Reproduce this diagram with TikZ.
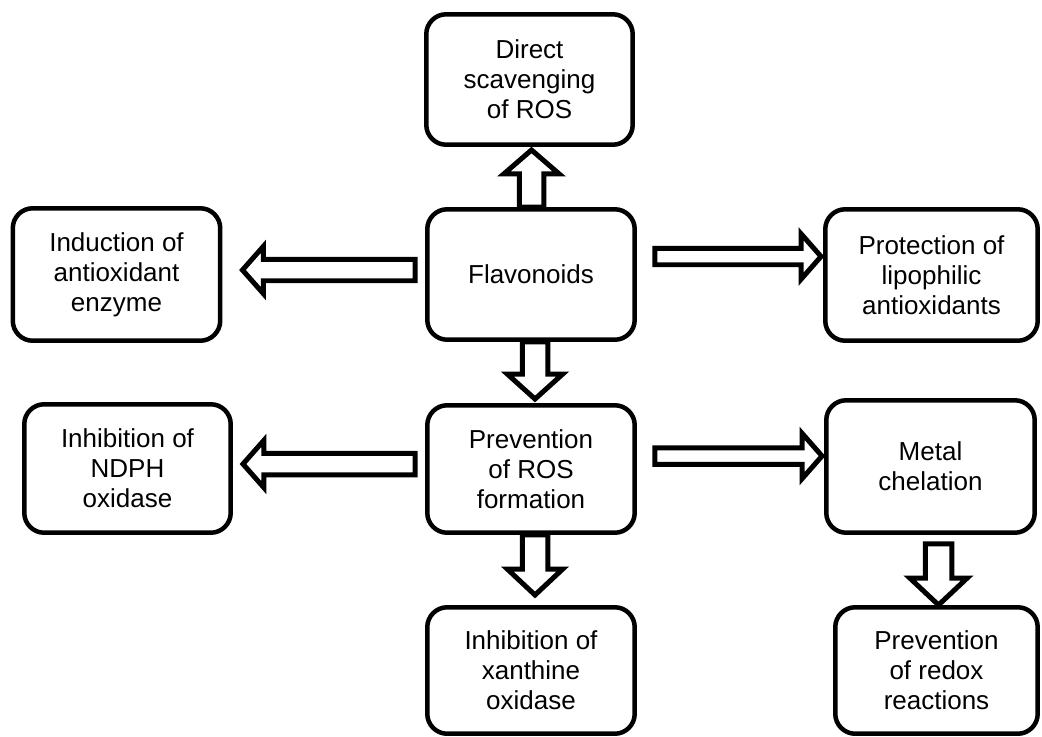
\documentclass[tikz,border=0pt]{standalone}
\usepackage{fontspec}
\setmainfont{Liberation Sans}
\usetikzlibrary{calc}
\tikzset{
  box/.style={draw, line width=0.09cm, rounded corners=0.4cm, fill=white,
    minimum width=4.15cm, minimum height=2.61cm, align=center, inner sep=0pt,
    font=\fontsize{14.8pt}{17pt}\selectfont},
  barrow/.style={draw, line width=0.1cm, fill=white, line join=miter}
}
% block arrow: start, end, half shaft width, half head width, head length
\newcommand\blockarr[5]{%
  \coordinate (bh) at ($(#2)!#5!(#1)$);
  \draw[barrow] ($(#1)!#3!90:(#2)$) -- ($(bh)!#3!90:(#2)$) -- ($(bh)!#4!90:(#2)$)
    -- (#2) -- ($(bh)!#4!-90:(#2)$) -- ($(bh)!#3!-90:(#2)$) -- ($(#1)!#3!-90:(#2)$) -- cycle;
}
\begin{document}
\begin{tikzpicture}[x=0.02cm, y=-0.02cm]
\useasboundingbox (0,0) rectangle (1042,737);
% boxes
\node[box, minimum width=4.13cm] (top) at (529.5,79.5) {Direct\\scavenging\\of ROS};
\node[box] (flav) at (531,274.5) {Flavonoids};
\node[box, minimum height=2.65cm] (induct) at (116.5,274.5) {Induction of\\antioxidant\\enzyme};
\node[box, minimum width=4.25cm, minimum height=2.63cm] (prot) at (931.5,275) {Protection of\\lipophilic\\antioxidants};
\node[box, minimum height=2.55cm] (prev) at (531,469) {Prevention\\of ROS\\formation};
\node[box, minimum width=4.13cm, minimum height=2.57cm] (ndph) at (127.5,468.5) {Inhibition of\\NDPH\\oxidase};
\node[box, minimum width=4.17cm, minimum height=2.65cm] (metal) at (930.5,466.5) {Metal\\chelation};
\node[box, minimum height=2.53cm] (xan) at (531,670.5) {Inhibition of\\xanthine\\oxidase};
\node[box, minimum width=4.05cm, minimum height=2.53cm] (redox) at (936.5,670.5) {Prevention\\of redox\\reactions};
% arrow ends
\coordinate (s1) at ($(flav.north)+(0.5,0)$);
\coordinate (e1) at ($(s1 |- top.south)+(0,3)$);
\coordinate (s2) at ($(flav.west)+(-10,-4.5)$);
\coordinate (e2) at ($(induct.east)+(20,-4.5)$);
\coordinate (s3) at ($(flav.east)+(18,-18)$);
\coordinate (e3) at ($(s3 -| prot.west)+(-2,0)$);
\coordinate (s4) at ($(flav.south)+(4,0)$);
\coordinate (e4) at ($(s4 |- prev.north)+(0,-4)$);
\coordinate (s5) at ($(prev.west)+(-10,-5)$);
\coordinate (e5) at ($(s5 -| ndph.east)+(10,0)$);
\coordinate (s6) at ($(prev.east)+(18,-13)$);
\coordinate (e6) at ($(s6 -| metal.west)+(-2,0)$);
\coordinate (s7) at ($(prev.south)+(4,0)$);
\coordinate (e7) at ($(s7 |- xan.north)+(0,-10)$);
\coordinate (s8) at ($(metal.south)+(8,9)$);
\coordinate (e8) at (s8 |- redox.north);
% block arrows
\blockarr{s1}{e1}{0.245cm}{0.555cm}{0.48cm}
\blockarr{s2}{e2}{0.215cm}{0.475cm}{0.42cm}
\blockarr{s3}{e3}{0.165cm}{0.455cm}{0.4cm}
\blockarr{s4}{e4}{0.255cm}{0.555cm}{0.5cm}
\blockarr{s5}{e5}{0.215cm}{0.475cm}{0.42cm}
\blockarr{s6}{e6}{0.165cm}{0.455cm}{0.4cm}
\blockarr{s7}{e7}{0.255cm}{0.555cm}{0.52cm}
\blockarr{s8}{e8}{0.265cm}{0.575cm}{0.54cm}
\end{tikzpicture}
\end{document}
